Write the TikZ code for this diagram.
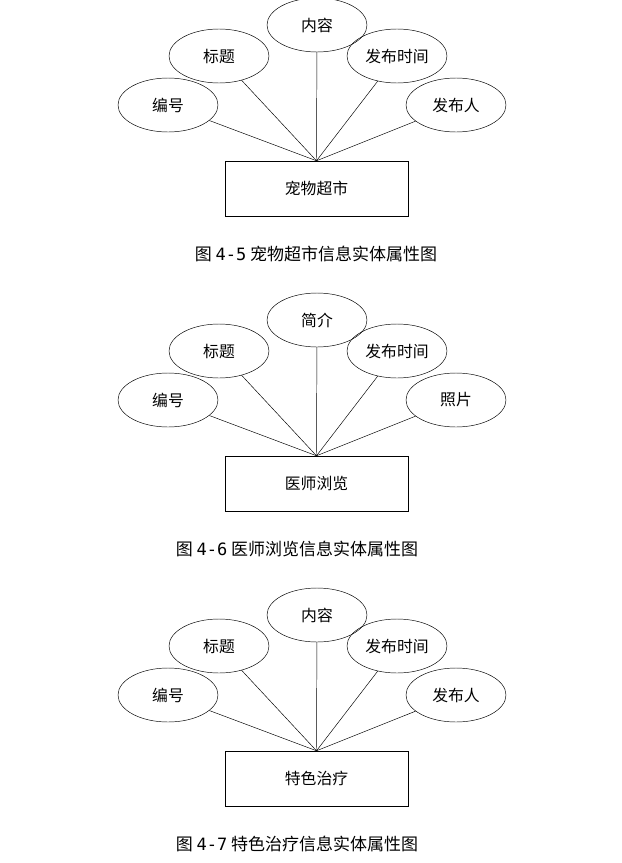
\documentclass[tikz,border=0pt]{standalone}
\usepackage{fontspec}
\setmainfont{Noto Sans CJK SC}
\setmonofont{DejaVu Sans Mono}
\usetikzlibrary{shapes.geometric}
\tikzset{
  attr/.style={ellipse,draw,minimum width=3cm,minimum height=1.62cm,inner sep=0pt,font=\fontsize{13.5}{15}\selectfont},
  entity/.style={rectangle,draw,minimum width=5.49cm,minimum height=1.65cm,font=\fontsize{13.5}{15}\selectfont},
  caption/.style={font=\fontsize{14.5}{16}\selectfont}
}
\begin{document}
\begin{tikzpicture}[x=0.03cm,y=-0.03cm]
    \useasboundingbox (0,0) rectangle (622,863);
    % three entity diagrams, shifted by 295px each
    \foreach \i/\dy/\capx/\top/\right/\ent/\fig/\cap in {1/0/316/内容/发布人/宠物超市/4-5/宠物超市信息实体属性图,
                                         2/295/297/简介/照片/医师浏览/4-6/医师浏览信息实体属性图,
                                         3/590/297/内容/发布人/特色治疗/4-7/特色治疗信息实体属性图}
    {
        \begin{scope}[yshift=-\dy*0.03cm]
            % entity
            \node[entity] (ent\i) at (316.5,188.5) {\ent};
            % attributes
            \node[attr] (num\i) at (168,105) {编号};
            \node[attr] (tit\i) at (219,56) {标题};
            \node[attr] (top\i) at (317,25) {\top};
            \node[attr] (tim\i) at (397,56) {发布时间};
            \node[attr] (rgt\i) at (456,105) {\right};
            % links
            \foreach \a in {num,tit,top,tim,rgt}
                \draw (\a\i) -- (ent\i.north);
            % caption
            \node[caption] (cap\i) at (\capx,254) {图 {\ttfamily\fig} \cap};
        \end{scope}
    }
\end{tikzpicture}
\end{document}
